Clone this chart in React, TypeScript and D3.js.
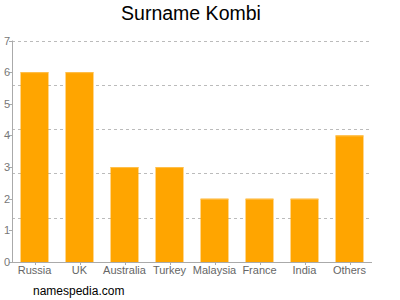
import React from "react";
import * as d3 from "d3";

const categories = ["Russia", "UK", "Australia", "Turkey", "Malaysia", "France", "India", "Others"];
const values = [6, 6, 3, 3, 2, 2, 2, 4];
const yTicks = [0, 1, 2, 3, 4, 5, 6, 7];
const gridValues = [1.4, 2.8, 4.2, 5.6, 7];

export default function App() {
  const W = 400, H = 300;
  const left = 12, right = 372, top = 40.5, bottom = 262;
  const x = d3.scaleBand<string>().domain(categories).range([left, right]).paddingInner(0.38).paddingOuter(0.19);
  const y = d3.scaleLinear().domain([0, 7]).range([bottom, top]);
  const font = "'Liberation Sans', Arial, sans-serif";
  return (
    <svg width={W} height={H} style={{ position: "absolute", left: 0, top: 0 }} fontFamily={font}>
      <rect x={0} y={0} width={W} height={H} fill="#fff" />
      <text x={191} y={19.5} textAnchor="middle" fontSize={19.5} fill="#000">Surname Kombi</text>
      {gridValues.map((g) => (
        <line key={g} x1={left} x2={right} y1={Math.round(y(g)) + 0.5} y2={Math.round(y(g)) + 0.5}
          stroke="#bbb" strokeDasharray="3,3" strokeWidth={1} />
      ))}
      {categories.map((c, i) => (
        <g key={c}>
          <rect x={x(c)} y={y(values[i])} width={x.bandwidth()} height={bottom - y(values[i])} fill="#FFA500" />
          <line x1={x(c)} x2={x(c)! + x.bandwidth()} y1={y(values[i]) + 0.5} y2={y(values[i]) + 0.5} stroke="#FFC04D" strokeWidth={1} />
        </g>
      ))}
      <line x1={left + 0.5} x2={left + 0.5} y1={top} y2={bottom} stroke="#aaa" />
      <line x1={left} x2={right} y1={bottom + 0.5} y2={bottom + 0.5} stroke="#aaa" />
      {yTicks.map((t) => (
        <g key={t}>
          <line x1={left - 3} x2={left} y1={Math.round(y(t)) + 0.5} y2={Math.round(y(t)) + 0.5} stroke="#aaa" />
          <text x={left - 2} y={y(t) + 4} textAnchor="end" fontSize={11} fill="#777">{t}</text>
        </g>
      ))}
      {categories.map((c) => (
        <g key={c}>
          <line x1={Math.round(x(c)! + x.bandwidth() / 2) + 0.5} x2={Math.round(x(c)! + x.bandwidth() / 2) + 0.5}
            y1={bottom} y2={bottom + 3} stroke="#aaa" />
          <text x={x(c)! + x.bandwidth() / 2} y={274} textAnchor="middle" fontSize={11} fill="#666">{c}</text>
        </g>
      ))}
      <text x={33} y={295} fontSize={12} fill="#000">namespedia.com</text>
    </svg>
  );
}
